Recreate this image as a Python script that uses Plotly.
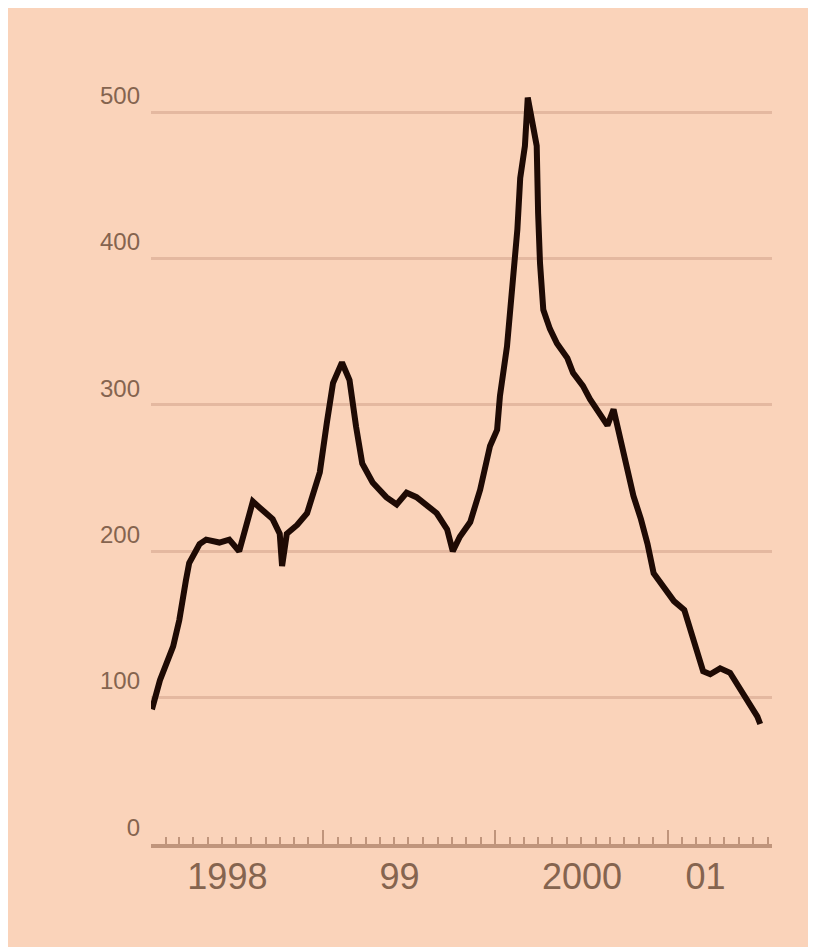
import plotly.graph_objects as go

# readings taken off the scanned chart
dates = [
    "1998-01-03", "1998-01-20", "1998-02-17", "1998-03-02", "1998-03-16", "1998-03-23",
    "1998-04-14", "1998-04-28", "1998-05-26", "1998-06-16", "1998-07-07", "1998-07-22",
    "1998-08-05", "1998-08-19", "1998-09-16", "1998-10-01", "1998-10-06", "1998-10-16",
    "1998-11-07", "1998-11-28", "1998-12-10", "1998-12-25",
    "1999-01-09", "1999-01-22", "1999-02-10", "1999-02-26", "1999-03-12", "1999-03-25",
    "1999-04-16", "1999-05-15", "1999-06-06", "1999-06-27", "1999-07-18", "1999-08-09",
    "1999-08-30", "1999-09-21", "1999-10-03", "1999-10-18", "1999-11-09", "1999-11-30",
    "1999-12-21",
    "2000-01-05", "2000-01-11", "2000-01-26", "2000-02-02", "2000-02-09", "2000-02-17",
    "2000-02-23", "2000-03-04", "2000-03-10", "2000-03-29", "2000-04-01", "2000-04-05",
    "2000-04-12", "2000-04-26", "2000-05-11", "2000-06-02", "2000-06-14", "2000-07-05",
    "2000-07-20", "2000-08-11", "2000-08-26", "2000-09-08", "2000-09-23", "2000-10-08",
    "2000-10-20", "2000-11-05", "2000-11-19", "2000-12-02",
    "2001-01-01", "2001-01-14", "2001-02-05", "2001-02-19", "2001-03-04", "2001-03-17",
    "2001-04-01", "2001-04-22", "2001-05-13", "2001-06-04", "2001-06-19", "2001-07-10",
    "2001-07-16",
]
values = [
    92, 112, 135, 153, 180, 192,
    205, 208, 206, 208, 200, 217,
    234, 230, 222, 212, 190, 212,
    218, 226, 240, 254,
    288, 315, 329, 317, 285, 260,
    247, 237, 232, 240, 237, 232,
    226, 215, 200, 210, 220, 242,
    272,
    283, 306, 340, 363, 386, 420,
    455, 477, 510, 477, 431, 397,
    365, 352, 342, 332, 322, 313,
    304, 294, 286, 297, 276, 256,
    238, 222, 205, 185,
    172, 166, 160, 146, 132, 118,
    116, 120, 117, 106, 97, 87,
    82,
]

y_ticks = [0, 100, 200, 300, 400, 500]
year_starts = ["1999-01-01", "2000-01-01", "2001-01-01"]
label_pos = ["1998-06-12", "1999-06-12", "2000-07-03", "2001-03-22"]
label_text = ["1998", "99", "2000", "01"]

BG = "#fad3ba"
TXT = "#85644f"
GRID = "#e4b8a0"
AXIS = "#c0957c"

fig = go.Figure()
fig.add_trace(go.Scatter(x=dates, y=values, mode="lines",
                         line=dict(color="#1e0a04", width=6), showlegend=False))
# helper trace so the label axis gets drawn
fig.add_trace(go.Scatter(x=[], y=[], xaxis="x2", showlegend=False))

x_range = ["1998-01-01", "2001-08-10"]

fig.update_layout(
    width=816, height=947,
    margin=dict(l=143, r=52, t=75, b=111),
    paper_bgcolor=BG, plot_bgcolor=BG,
    font=dict(family="Liberation Sans", color=TXT),
    xaxis=dict(type="date", range=x_range, showgrid=False, zeroline=False,
               showline=True, linecolor=AXIS, linewidth=4,
               tickmode="array", tickvals=year_starts, ticks="inside",
               ticklen=14, tickwidth=2, tickcolor=AXIS, showticklabels=False,
               minor=dict(dtick="M1", tick0="1998-01-01", ticks="inside",
                          ticklen=7, tickwidth=2, tickcolor=AXIS, showgrid=False)),
    xaxis2=dict(type="date", range=x_range, overlaying="x", anchor="y", side="bottom",
                showgrid=False, zeroline=False, showline=False,
                tickmode="array", tickvals=label_pos, ticktext=label_text, ticks="",
                ticklabelstandoff=8,
                tickfont=dict(family="Liberation Sans", size=36, color=TXT)),
    yaxis=dict(range=[0, 520], tickmode="array", tickvals=y_ticks,
               showgrid=True, gridcolor=GRID, gridwidth=3, zeroline=False,
               ticks="", ticklabelposition="outside top", ticklabelstandoff=10,
               tickfont=dict(family="Liberation Sans", size=24, color=TXT)),
)

fig.write_html("out.html")
